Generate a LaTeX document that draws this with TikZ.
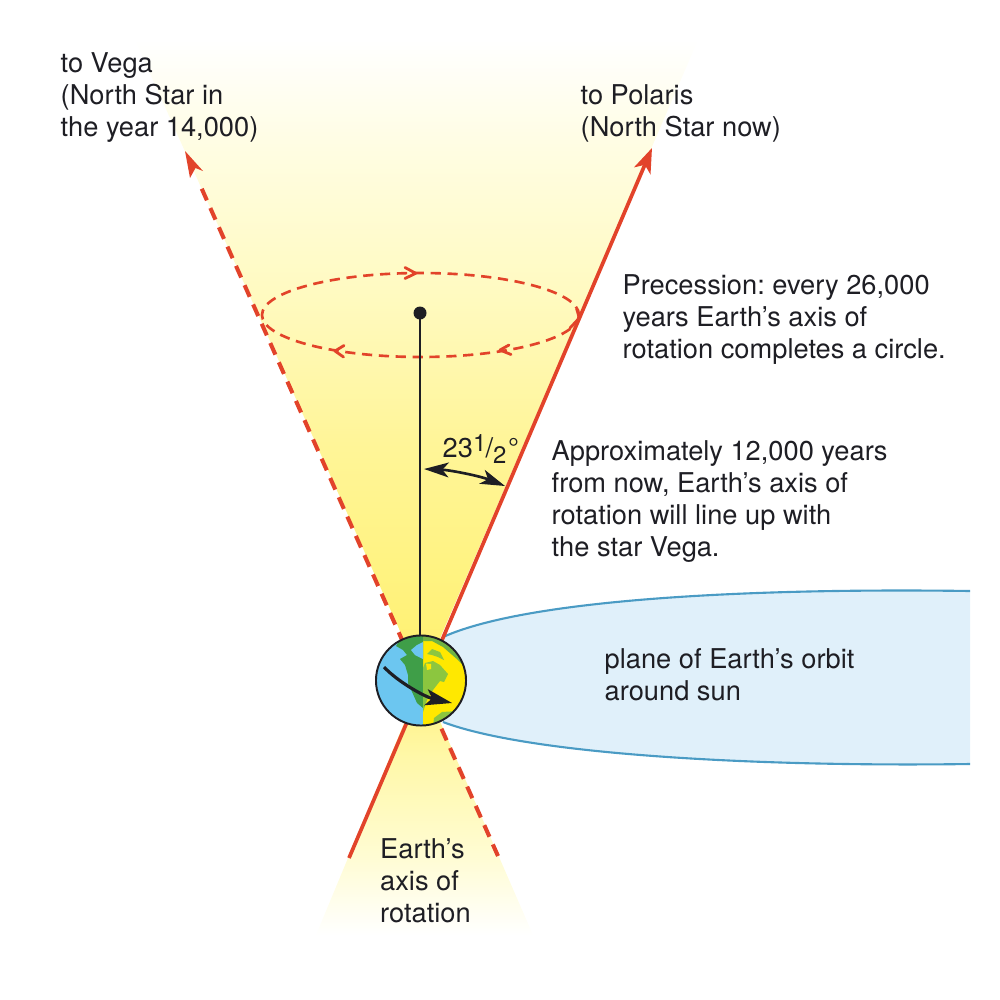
\documentclass[tikz,border=0pt]{standalone}
\usepackage{fontspec}
\setmainfont{TeX Gyre Heros}
\usetikzlibrary{arrows.meta,calc}
\frenchspacing
\definecolor{axisred}{HTML}{E2432A}
\definecolor{orbitfill}{HTML}{E0F0FA}
\definecolor{orbitline}{HTML}{4A9BC4}
\definecolor{seablue}{HTML}{6CC6F0}
\definecolor{sunyellow}{HTML}{FFE800}
\definecolor{landdark}{HTML}{3F9E48}
\definecolor{landlight}{HTML}{8CC63F}
\definecolor{landmid}{HTML}{6FB244}
\definecolor{inkblack}{HTML}{1E1E24}
\definecolor{glowA}{HTML}{FFF06C}
\definecolor{glowB}{HTML}{FFF27A}
\definecolor{glowC}{HTML}{FFF598}
\definecolor{glowD}{HTML}{FFFAC0}
\definecolor{glowE}{HTML}{FFFDE2}
\definecolor{glowF}{HTML}{FFFCD4}
\definecolor{glowG}{HTML}{FFF8A8}
\definecolor{glowH}{HTML}{FFF07A}
\pgfdeclareverticalshading{upperglow}{100bp}{
  color(0bp)=(glowA);
  color(25bp)=(glowA);
  color(30.4bp)=(glowB);
  color(43.5bp)=(glowC);
  color(55bp)=(glowD);
  color(66.5bp)=(glowE);
  color(75bp)=(white);
  color(100bp)=(white)}
\pgfdeclareverticalshading{lowerglow}{100bp}{
  color(0bp)=(white);
  color(25bp)=(white);
  color(40bp)=(glowF);
  color(60bp)=(glowG);
  color(75bp)=(glowH);
  color(100bp)=(glowH)}
\tikzset{
  label text/.style={inner sep=0pt,anchor=north west,align=left,text=inkblack,
    font=\fontsize{7.75}{9.1}\selectfont},
  axis solid/.style={draw=axisred,line width=1.05pt},
  axis dashed/.style={draw=axisred,line width=1.15pt,dash pattern=on 3.6pt off 2.4pt},
  circle dashed/.style={draw=axisred,line width=.75pt,dash pattern=on 2.9pt off 1.9pt},
  chevron/.style={draw=axisred,line width=.8pt,line cap=round,line join=round},
  black arrow/.style={draw=inkblack,line width=.75pt},
}
\begin{document}
\begin{tikzpicture}[x=0.01cm,y=-0.01cm]
\useasboundingbox (0,0) rectangle (1000,1000);

% line ends of the two axis positions
\coordinate (solidTop) at (652,148);
\coordinate (solidEnd) at (349,858);
\coordinate (dashTop) at (185,151);
\coordinate (dashEnd) at (498,856);
\coordinate (apex) at (422,680);

% glow around the two axes
\shade[shading=upperglow] (apex) -- (698,40) -- (135,40) -- cycle;
\shade[shading=lowerglow] (apex) -- (533,935) -- (316,935) -- cycle;

% orbital plane, open at its right edge
\fill[orbitfill] (443,637) .. controls (530,598) and (760,588) .. (970,591)
  -- (970,764) .. controls (760,767) and (530,755) .. (443,722) -- cycle;
\draw[orbitline,line width=.6pt] (443,637) .. controls (530,598) and (760,588) .. (970,591);
\draw[orbitline,line width=.6pt] (443,722) .. controls (530,755) and (760,767) .. (970,764);

% the two axis positions
\draw[axis solid,-{Stealth[length=7pt,width=5pt,inset=1.8pt]}] (solidEnd) -- (solidTop);
\draw[axis dashed] (dashEnd) -- ($(dashTop)!0.045!(dashEnd)$);
\path[fill=axisred] (dashTop) -- (190,178) -- (195.5,168) -- (203,171) -- cycle;

% precession circle
\node[draw=none,inner sep=0pt] (ringCentre) at (420.5,315) {};
\draw[circle dashed] (ringCentre.center) ellipse [x radius=158.5,y radius=42];
\draw[chevron] (405,267.5) -- (415.7,273.3) -- (405,278.5);
\draw[chevron] (344,345.5) -- (335,351) -- (343.5,357);
\draw[chevron] (509,345) -- (500,350) -- (511,354.5);
\draw[chevron] (576.7,309) -- (579.3,318) -- (570,328);

% pole marker and the line straight up from the globe
\node[circle,fill=inkblack,inner sep=0pt,minimum size=.13cm] (pole) at (420,313) {};
\coordinate (poleFoot) at (420,641);
\draw[inkblack,line width=.75pt] (pole.center) -- (poleFoot);

% angle between the axis and the vertical
\coordinate (angleLeft) at (424,469);
\coordinate (angleRight) at (505,486);
\draw[black arrow,{Stealth[length=7pt,width=4.2pt,inset=1.8pt]}-{Stealth[length=7pt,width=4.2pt,inset=1.8pt]}]
  (angleLeft) .. controls (450,470) and (480,476) .. (angleRight);

% globe: ocean, night side, continents
\begin{scope}
  \clip (421,680.5) circle (45);
  \fill[seablue] (370,630) rectangle (423,730);
  \fill[sunyellow] (423,630) rectangle (470,730);
  % North America, shaded half
  \fill[landdark] (423,630) -- (423,708) -- (417,703) -- (413,694) -- (408,683) -- (408,675)
    -- (405,665) -- (400,659) -- (407,655) -- (403,650) -- (396,646) -- (407,630) -- cycle;
  \fill[seablue] (423,642) -- (423,659) -- (415,655) -- (411,650) -- (417,645) -- cycle;
  % North America, sunlit half
  \fill[landmid] (423,630) -- (470,630) -- (470,672) -- (458,660) -- (443,647) -- (432,641) -- (423,641) -- cycle;
  \fill[landlight] (423,668) -- (425,663) -- (433,661) -- (440,665) -- (448,674) -- (444,682)
    -- (440,681) -- (433,690) -- (427,700) -- (423,712) -- cycle;
  \fill[sunyellow] (426,663.5) -- (431,664) -- (431,669) -- (427,670) -- cycle;
  \fill[landlight] (427,654) -- (432,649) -- (440,652) -- (444,660) -- (438,657) -- (432,655) -- cycle;
  % South America
  \fill[landlight] (433,727) -- (434,718) -- (442,712) -- (458,711) -- (470,715) -- (470,735) -- (433,735) -- cycle;
\end{scope}
\node[circle,draw=inkblack,line width=.55pt,inner sep=0pt,minimum size=.9cm] (globe) at (421,680.5) {};

% direction of the Earth's rotation
\coordinate (spinStart) at (384,667);
\coordinate (spinEnd) at (452,703);
\draw[black arrow,line width=.9pt,-{Stealth[length=7.5pt,width=4.6pt,inset=1.7pt]}]
  (spinStart) .. controls (398,682) and (425,697) .. (spinEnd);

% labels
\node[label text] (vega) at (60,52) {to Vega\\(North Star in\\the year 14,000)};
\node[label text] (polaris) at (580,84) {to Polaris\\(North Star now)};
\node[label text] (precession) at (622,274) {Precession: every 26,000\\years Earth’s axis of\\rotation completes a circle.};
\node[label text] (lineup) at (551,440) {Approximately 12,000 years\\from now, Earth’s axis of\\rotation will line up with\\the star Vega.};
\node[label text] (orbitlabel) at (604,648) {plane of Earth’s orbit\\around sun};
\node[label text] (axislabel) at (379.5,838) {Earth’s\\axis of\\rotation};
\node[label text] (angle) at (442,434) {23\raisebox{1.8pt}{\fontsize{6.8}{7}\selectfont 1}\kern-.2pt/\raisebox{-1.6pt}{\fontsize{6.8}{7}\selectfont 2}\kern.5pt°};
\end{tikzpicture}
\end{document}
